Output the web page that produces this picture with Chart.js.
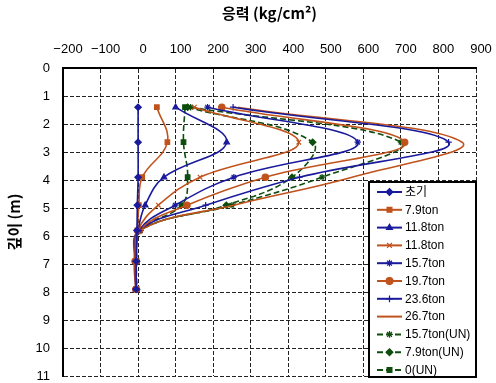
<!DOCTYPE html>
<html>
<head>
<meta charset="utf-8">
<script src="https://cdn.jsdelivr.net/npm/chart.js@4.4.1/dist/chart.umd.min.js"></script>
<style>
  html, body { margin: 0; padding: 0; background: #fff; }
  #c { display: block; }
</style>
</head>
<body>
<canvas id="c" width="496" height="383"></canvas>
<script>
// Measurement depths (m)
const depths = [1.4, 2.65, 3.9, 4.9, 5.8, 6.9, 7.9];

// Series names shown in the legend
const seriesNames = ['초기', '7.9ton', '11.8ton', '11.8ton', '15.7ton', '19.7ton',
  '23.6ton', '26.7ton', '15.7ton(UN)', '7.9ton(UN)', '0(UN)'];

// Stress (kg/cm2) at each depth, per load step
const initial   = [0, 0, 0, -2, -3, -5, -5];
const load79    = [50, 78, 11, 2, -2, -6, -5];
const load118a  = [100, 236, 69, 19, 0, -5, -5];
const load118b  = [150, 428, 165, 54, 0, -6, -5];
const load157   = [185, 585, 255, 99, 2, -6, -6];
const load197   = [223, 710, 339, 130, 3, -8, -6];
const load236   = [253, 827, 430, 180, 3, -8, -6];
const load267   = [265, 863, 570, 255, 4, -10, -6];
const unload157 = [140, 700, 490, 250, 5, -5, -4];
const unload79  = [132, 465, 410, 235, 5, -4, -4];
const unload0   = [125, 121, 132, 116, 5, -4, -4];

// Axis ranges
const xMin = -200, xMax = 900, xStep = 100;
const yMin = 0, yMax = 11, yStep = 1;

const BLUE = '#1a1a9c';
const BROWN = '#c0521c';
const GREEN = '#0d4d0d';

const seriesValues = [initial, load79, load118a, load118b, load157, load197,
  load236, load267, unload157, unload79, unload0];
const seriesStyles = [
  { color: BLUE,  point: 'rectRot',  dash: [] },
  { color: BROWN, point: 'rect',     dash: [] },
  { color: BLUE,  point: 'triangle', dash: [] },
  { color: BROWN, point: 'crossRot', dash: [] },
  { color: BLUE,  point: 'star',     dash: [] },
  { color: BROWN, point: 'circle',   dash: [] },
  { color: BLUE,  point: 'cross',    dash: [] },
  { color: BROWN, point: false,      dash: [] },
  { color: GREEN, point: 'star',     dash: [6, 3] },
  { color: GREEN, point: 'rectRot',  dash: [6, 3] },
  { color: GREEN, point: 'rect',     dash: [6, 3] }
];

const datasets = seriesValues.map((vals, i) => {
  const st = seriesStyles[i];
  return {
    label: seriesNames[i],
    data: vals.map((v, k) => ({ x: v, y: depths[k] })),
    showLine: true,
    borderColor: st.color,
    backgroundColor: st.color,
    borderWidth: 1.6,
    borderDash: st.dash,
    tension: 0.4,
    pointStyle: st.point,
    pointRadius: st.point ? 3.2 : 0,
    pointBorderWidth: 1.2,
    pointBorderColor: st.color,
    pointBackgroundColor: st.color
  };
});

// Boxed legend drawn inside the lower right of the plot area
const boxLegend = {
  id: 'boxLegend',
  afterDraw(chart) {
    const ctx = chart.ctx;
    const area = chart.chartArea;
    const bx = 369, by = 182, bw = area.right - 369, bh = 377 - 182;
    ctx.save();
    ctx.fillStyle = '#fff';
    ctx.fillRect(bx, by, bw, bh);
    ctx.lineWidth = 2;
    ctx.strokeStyle = '#000';
    ctx.setLineDash([]);
    ctx.strokeRect(bx, by, bw, bh);
    ctx.font = '12px "Liberation Sans", "Noto Sans CJK KR", sans-serif';
    ctx.textBaseline = 'middle';
    ctx.textAlign = 'left';
    chart.data.datasets.forEach((ds, i) => {
      const y = 192 + i * 17.8;
      ctx.strokeStyle = ds.borderColor;
      ctx.fillStyle = ds.borderColor;
      ctx.lineWidth = 2;
      ctx.setLineDash(ds.borderDash || []);
      ctx.beginPath();
      ctx.moveTo(377, y);
      ctx.lineTo(402, y);
      ctx.stroke();
      ctx.setLineDash([]);
      if (ds.pointStyle) {
        ctx.lineWidth = 1.2;
        Chart.helpers.drawPoint(ctx, {
          pointStyle: ds.pointStyle, radius: 3.4, rotation: 0, borderWidth: 1.2
        }, 389.5, y);
      }
      ctx.fillStyle = '#000';
      ctx.fillText(ds.label, 405, y + 0.5);
    });
    ctx.restore();
  }
};

const tickFont = { family: '"Liberation Sans", Arial, sans-serif', size: 13 };
const titleFont = { family: '"Noto Sans CJK KR", "Liberation Sans", sans-serif', size: 15, weight: 'bold' };

new Chart(document.getElementById('c'), {
  type: 'scatter',
  data: { datasets },
  options: {
    responsive: false,
    animation: false,
    devicePixelRatio: 1,
    layout: { autoPadding: false, padding: { left: 0, right: 20, top: 0, bottom: 7 } },
    plugins: { legend: { display: false }, tooltip: { enabled: false } },
    scales: {
      x: {
        type: 'linear',
        position: 'top',
        min: xMin, max: xMax,
        ticks: {
          stepSize: xStep, color: '#000', font: tickFont, padding: 11, labelOffset: 5,
          callback: v => (v < 0 ? '\u2212' + Math.abs(v) : String(v))
        },
        grid: { color: '#222', lineWidth: 1, drawTicks: false },
        border: { display: true, color: '#000', width: 2, dash: [4, 2] },
        title: { display: true, text: '응력 (kg/cm²)', color: '#000', font: titleFont, padding: { top: 4, bottom: 0 } },
        afterFit(scale) { scale.height = 68; scale.paddingLeft = 0; scale.paddingRight = 0; }
      },
      y: {
        type: 'linear',
        reverse: true,
        min: yMin, max: yMax,
        ticks: { stepSize: yStep, color: '#000', font: tickFont, padding: 13 },
        grid: { color: '#222', lineWidth: 1, drawTicks: false },
        border: { display: true, color: '#000', width: 2, dash: [4, 2] },
        title: { display: true, text: '깊이 (m)', color: '#000', font: titleFont, padding: { top: 5, bottom: 0 } },
        afterFit(scale) { scale.width = 63; scale.paddingTop = 0; scale.paddingBottom = 0; }
      }
    }
  },
  plugins: [boxLegend]
});
</script>
</body>
</html>
